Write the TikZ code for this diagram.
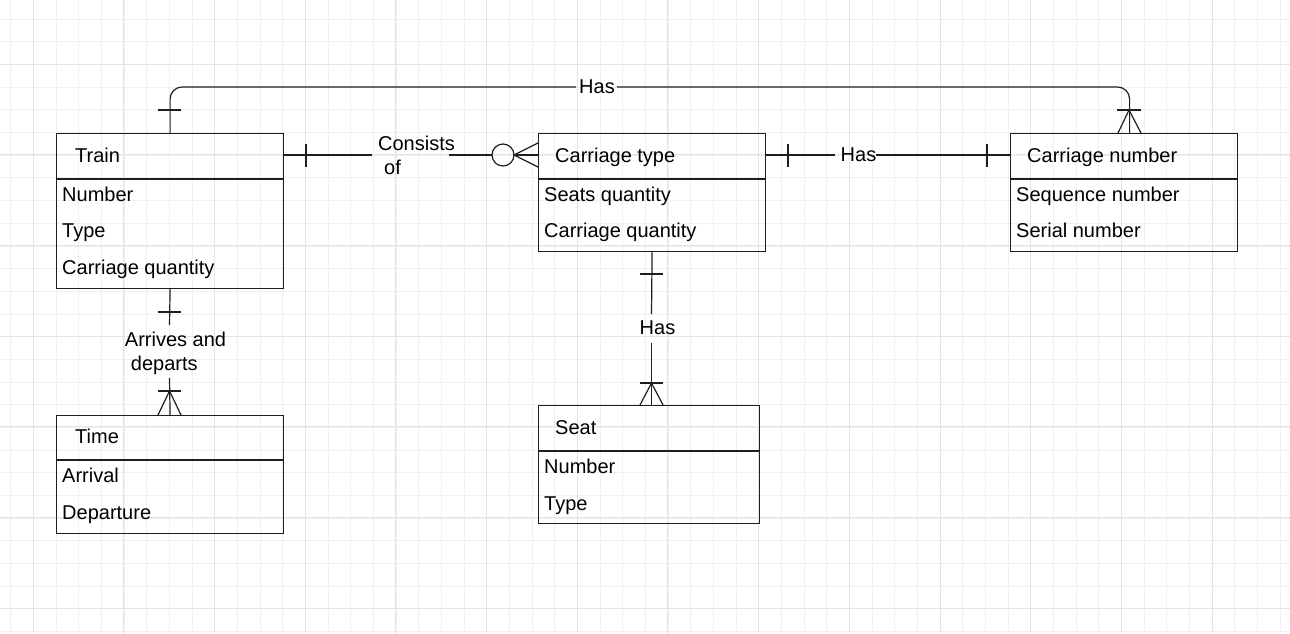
\documentclass[tikz,border=0pt]{standalone}
\usepackage{fontspec}
\setmainfont{Liberation Sans}
\usetikzlibrary{positioning, calc}
\definecolor{gridminor}{HTML}{F0F0F0}
\definecolor{gridmajor}{HTML}{E4E4E4}
\definecolor{ink}{HTML}{1E1E1E}
\tikzset{
x=1pt, y=-1pt, % one unit is one pixel of the drawing, y runs down
entity/.style={draw=ink, line width=1.2pt, minimum width=227pt, anchor=north west, inner sep=0pt}, % box of an entity
heading/.style={anchor=base west, inner sep=0pt}, % name of the entity
field/.style={anchor=base west, inner sep=0pt}, % one attribute
rel/.style={draw=ink, line width=1.2pt}, % relationship lines and their ends
rellabel/.style={inner sep=0pt, align=left}, % text on a relationship
}

\begin{document}
\begin{tikzpicture}[font=\fontsize{20}{24}\selectfont]
\useasboundingbox (0,0) rectangle (1290,633);

% background grid
\foreach \i in {0,...,56}
    \draw[gridminor, line width=1pt] ({10.7+\i*22.67},0) -- ++(0,633);
\foreach \i in {0,...,27}
    \draw[gridminor, line width=1pt] (0,{19.3+\i*22.67}) -- ++(1290,0);
\foreach \i in {0,...,14}
    \draw[gridmajor, line width=1pt] ({33.3+\i*90.67},0) -- ++(0,633);
\foreach \i in {0,...,6}
    \draw[gridmajor, line width=1pt] (0,{64.3+\i*90.67}) -- ++(1290,0);

% entities
\node[entity, minimum height=155pt] (train) at (56,133) {};
\draw[rel] ($(train.north west)+(0,46)$) -- ($(train.north east)+(0,46)$);
\node[heading] (train-name) at (75,162) {Train};
\node[field] at (62,201) {Number};
\node[field] at (62,237) {Type};
\node[field] at (62,274) {Carriage quantity};

\node[entity, minimum height=118pt] (time) at (56,415) {};
\draw[rel] ($(time.north west)+(0,45)$) -- ($(time.north east)+(0,45)$);
\node[heading] (time-name) at (75,443) {Time};
\node[field] at (62,482) {Arrival};
\node[field] at (62,519) {Departure};

\node[entity, minimum height=118pt] (ctype) at (538,133) {};
\draw[rel] ($(ctype.north west)+(0,46)$) -- ($(ctype.north east)+(0,46)$);
\node[heading] (ctype-name) at (555,162) {Carriage type};
\node[field] at (544,201) {Seats quantity};
\node[field] at (544,237) {Carriage quantity};

\node[entity, minimum height=118pt] (cnum) at (1010,133) {};
\draw[rel] ($(cnum.north west)+(0,46)$) -- ($(cnum.north east)+(0,46)$);
\node[heading] (cnum-name) at (1027,162) {Carriage number};
\node[field] at (1016,201) {Sequence number};
\node[field] at (1016,237) {Serial number};

\node[entity, minimum width=221pt, minimum height=118pt] (seat) at (538,405) {};
\draw[rel] ($(seat.north west)+(0,46)$) -- ($(seat.north east)+(0,46)$);
\node[heading] (seat-name) at (555,434) {Seat};
\node[field] at (544,473) {Number};
\node[field] at (544,510) {Type};

% relationship labels
\node[rellabel] (has-top) at (597,87) {Has};
\node[rellabel] (consists) at (416.5,155) {Consists\\\hspace*{6pt}of};
\node[rellabel] (has-num) at (858.5,155) {Has};
\node[rellabel] (arrives) at (175.5,353) {Arrives and\\\hspace*{6pt}departs};
\node[rellabel] (has-seat) at (657.5,328) {Has};

% train -- carriage number
\coordinate (cnum-top) at ([xshift=5.5pt]cnum.north);
\draw[rel, rounded corners=12pt] (train.north) -- (train.north |- has-top) -- ([xshift=-3pt]has-top.west);
\draw[rel, rounded corners=12pt] ([xshift=2pt]has-top.east) -- (cnum-top |- has-top) -- (cnum-top);
\draw[rel] (158,110) -- (181,110);
\draw[rel] (1117,110) -- (1141,110);
\draw[rel] (1118,133) -- (1129,110) -- (1141,133);

% train -- carriage type
\draw[rel] (train.east |- consists) -- ([xshift=-6pt]consists.west);
\draw[rel] (449,155) -- (492,155);
\draw[rel] (503,155) circle (11);
\draw[rel] (ctype.north west |- 0,143) -- (514,155) -- (ctype.north west |- 0,167);
\draw[rel] (514,155) -- (ctype.west |- consists);
\draw[rel] (306,144) -- (306,167);

% carriage type -- carriage number
\draw[rel] (ctype.east |- has-num) -- ([xshift=-6pt]has-num.west);
\draw[rel] (has-num.east) -- (cnum.west |- has-num);
\draw[rel] (788,144) -- (788,167);
\draw[rel] (987,144) -- (987,167);

% train -- time
\draw[rel] (train.south) -- (169.5,325);
\draw[rel] (169.5,378) -- (time.north);
\draw[rel] (158,312) -- (181,312);
\draw[rel] (158,391) -- (181,391);
\draw[rel] (158,415) -- (169.5,391) -- (181,415);

% carriage type -- seat
\draw[rel] (ctype.south) -- (651.5,314);
\draw[rel] (651.5,343) -- (651.5,405);
\draw[rel] (640,274) -- (663,274);
\draw[rel] (640,383) -- (663,383);
\draw[rel] (640,405) -- (651.5,383) -- (663,405);
\end{tikzpicture}
\end{document}
